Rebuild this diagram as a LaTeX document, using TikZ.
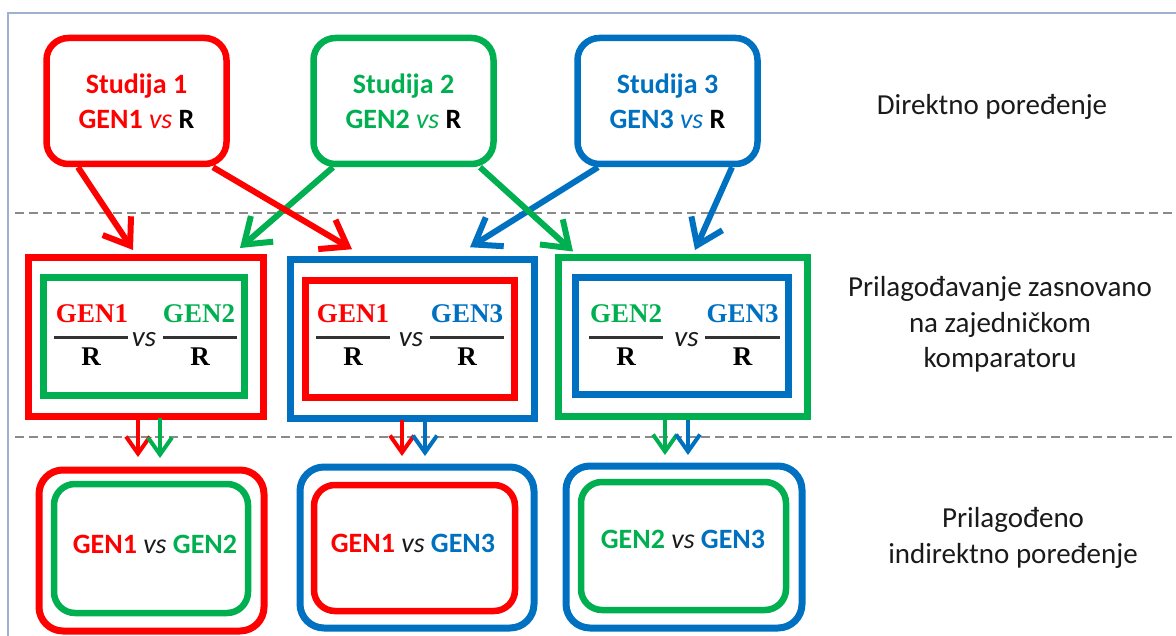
\documentclass[tikz,border=0pt]{standalone}
\usepackage{fontspec}
\setmainfont{Carlito}
\newfontfamily\serifbf{Liberation Serif}
\usetikzlibrary{arrows.meta}
\definecolor{cred}{HTML}{FF0000}
\definecolor{cgreen}{HTML}{00B050}
\definecolor{cblue}{HTML}{0070C0}
\definecolor{framec}{HTML}{9FB1D0}
\definecolor{dashgray}{HTML}{8A8A8A}
\definecolor{txt}{HTML}{1A1A1A}
\begin{document}
\begin{tikzpicture}[x=1pt,y=-1pt,
  topbox/.style={draw=#1, text=#1, line width=6.5pt, rounded corners=22pt,
    minimum width=180pt, minimum height=126pt, inner sep=0pt, align=center,
    font=\fontsize{28}{35}\selectfont\bfseries},
  sqbox/.style={draw=#1, line width=7pt, inner sep=0pt},
  rbox/.style={draw=#1, line width=7pt, inner sep=0pt, rounded corners=24pt},
  rboxin/.style={draw=#1, line width=6.5pt, inner sep=0pt, rounded corners=21pt},
  bigarrow/.style={draw=#1, line width=6pt, -{Straight Barb[length=24pt,width=34pt]}},
  smallarrow/.style={draw=#1, line width=4pt, -{Straight Barb[length=17pt,width=24pt]}},
  sepline/.style={draw=dashgray, line width=1.5pt, dash pattern=on 9pt off 5pt},
  lbl/.style={font=\fontsize{29}{35.5}\selectfont, align=center, text=txt, inner sep=0pt},
  fpart/.style={font=\serifbf\fontsize{27}{30}\selectfont\bfseries, inner sep=0pt, anchor=base},
  vsn/.style={font=\fontsize{29}{30}\selectfont\itshape, text=txt, inner sep=0pt, anchor=base},
  bottxt/.style={font=\fontsize{28}{30}\selectfont\bfseries, inner sep=0pt, anchor=base},
  fbar/.style={draw=black!80, line width=3pt}
]
\useasboundingbox (0,0) rectangle (1176,636);
% frame
\draw[framec, line width=1.5pt] (8,636) -- (8,13) -- (1176,13);
% separators
\draw[sepline] (15,213) -- (1176,213);
\draw[sepline] (15,437) -- (1176,437);

% top boxes
\node[topbox=cred] (s1) at (136.5,101) {Studija 1\\GEN1 {\mdseries\itshape vs} \textcolor{black}{R}};
\node[topbox=cgreen] (s2) at (403.5,101) {Studija 2\\GEN2 {\mdseries\itshape vs} \textcolor{black}{R}};
\node[topbox=cblue] (s3) at (667.5,101) {Studija 3\\GEN3 {\mdseries\itshape vs} \textcolor{black}{R}};

% middle boxes
\node[sqbox=cred, minimum width=235pt, minimum height=159pt] (m1o) at (146,337) {};
\node[sqbox=cgreen, minimum width=201pt, minimum height=118pt] (m1i) at (144,336.5) {};
\node[sqbox=cblue, minimum width=244pt, minimum height=158.5pt] (m2o) at (412,339) {};
\node[sqbox=cred, minimum width=209.5pt, minimum height=116.5pt] (m2i) at (410,339) {};
\node[sqbox=cgreen, minimum width=249pt, minimum height=158pt] (m3o) at (682.5,337) {};
\node[sqbox=cblue, minimum width=213pt, minimum height=117pt] (m3i) at (681.5,336.5) {};

% fractions box 1
\node[fpart, text=cred] (f1a) at (92,323) {GEN1};
\node[fpart, text=black] (f1b) at (91,366) {R};
\draw[fbar] (54,338) -- (128,338);
\node[vsn] (v1) at (144,347) {vs};
\node[fpart, text=cgreen] (f1c) at (199,323) {GEN2};
\node[fpart, text=black] (f1d) at (200,366) {R};
\draw[fbar] (163,338) -- (237,338);
% fractions box 2
\node[fpart, text=cred] (f2a) at (353,323) {GEN1};
\node[fpart, text=black] (f2b) at (353,366) {R};
\draw[fbar] (316,338) -- (390,338);
\node[vsn] (v2) at (411,347) {vs};
\node[fpart, text=cblue] (f2c) at (467,323) {GEN3};
\node[fpart, text=black] (f2d) at (467,366) {R};
\draw[fbar] (430,338) -- (504,338);
% fractions box 3
\node[fpart, text=cgreen] (f3a) at (626,323) {GEN2};
\node[fpart, text=black] (f3b) at (626,366) {R};
\draw[fbar] (589,338) -- (663,338);
\node[vsn] (v3) at (686.5,347) {vs};
\node[fpart, text=cblue] (f3c) at (742.5,323) {GEN3};
\node[fpart, text=black] (f3d) at (742.5,366) {R};
\draw[fbar] (705,338) -- (780,338);

% bottom boxes
\node[rbox=cred, minimum width=225pt, minimum height=161pt] (b1o) at (151.5,550.5) {};
\node[rboxin=cgreen, minimum width=194pt, minimum height=129pt] (b1i) at (151,548.5) {};
\node[rbox=cblue, minimum width=234pt, minimum height=161pt] (b2o) at (417,547.5) {};
\node[rboxin=cred, minimum width=201pt, minimum height=126pt] (b2i) at (414.5,548) {};
\node[rbox=cblue, minimum width=236pt, minimum height=162pt] (b3o) at (684,547) {};
\node[rboxin=cgreen, minimum width=205pt, minimum height=128pt] (b3i) at (683.5,546) {};

\node[bottxt] (t1) at (155,553) {\textcolor{cred}{GEN1} {\mdseries\itshape\color{txt}vs} \textcolor{cgreen}{GEN2}};
\node[bottxt] (t2) at (413,552) {\textcolor{cred}{GEN1} {\mdseries\itshape\color{txt}vs} \textcolor{cblue}{GEN3}};
\node[bottxt] (t3) at (683,548) {\textcolor{cgreen}{GEN2} {\mdseries\itshape\color{txt}vs} \textcolor{cblue}{GEN3}};

% right labels
\node[lbl, anchor=base] (l1) at (992,115) {Direktno poređenje};
\node[lbl] (l2) at (1000,324.5) {Prilagođavanje zasnovano\\na zajedničkom\\komparatoru};
\node[lbl] (l3) at (1013,538) {Prilagođeno\\indirektno poređenje};

% top arrows
\draw[bigarrow=cblue] ([xshift=-69.5pt]s3.south) -- ([xshift=58pt,yshift=9pt]m2o.north);
\draw[bigarrow=cblue] ([xshift=64.5pt]s3.south) -- ([xshift=12.5pt,yshift=4.5pt]m3o.north);
\draw[bigarrow=cgreen] ([xshift=-70.5pt]s2.south) -- ([xshift=94pt,yshift=6pt]m1o.north);
\draw[bigarrow=cgreen] ([xshift=76.5pt]s2.south) -- ([xshift=-109.5pt,yshift=3pt]m3o.north);
\draw[bigarrow=cred] ([xshift=-58.5pt]s1.south) -- ([xshift=-13pt,yshift=4pt]m1o.north);
\draw[bigarrow=cred] ([xshift=76.5pt]s1.south) -- ([xshift=-60pt,yshift=7pt]m2o.north);

% down arrows
\draw[smallarrow=cred] ([xshift=-8pt]m1o.south) -- ([xshift=-13.5pt,yshift=9.5pt]b1o.north);
\draw[smallarrow=cgreen] ([xshift=14pt,yshift=2pt]m1o.south) -- ([xshift=8.5pt,yshift=8.5pt]b1o.north);
\draw[smallarrow=cred] ([xshift=-10pt,yshift=2pt]m2o.south) -- ([xshift=-15pt,yshift=7.5pt]b2o.north);
\draw[smallarrow=cblue] ([xshift=13pt]m2o.south) -- ([xshift=8pt,yshift=7.5pt]b2o.north);
\draw[smallarrow=cgreen] ([xshift=-17.5pt]m3o.south) -- ([xshift=-19pt,yshift=7.5pt]b3o.north);
\draw[smallarrow=cblue] ([xshift=5.5pt]m3o.south) -- ([xshift=4pt,yshift=7.5pt]b3o.north);
\end{tikzpicture}
\end{document}
